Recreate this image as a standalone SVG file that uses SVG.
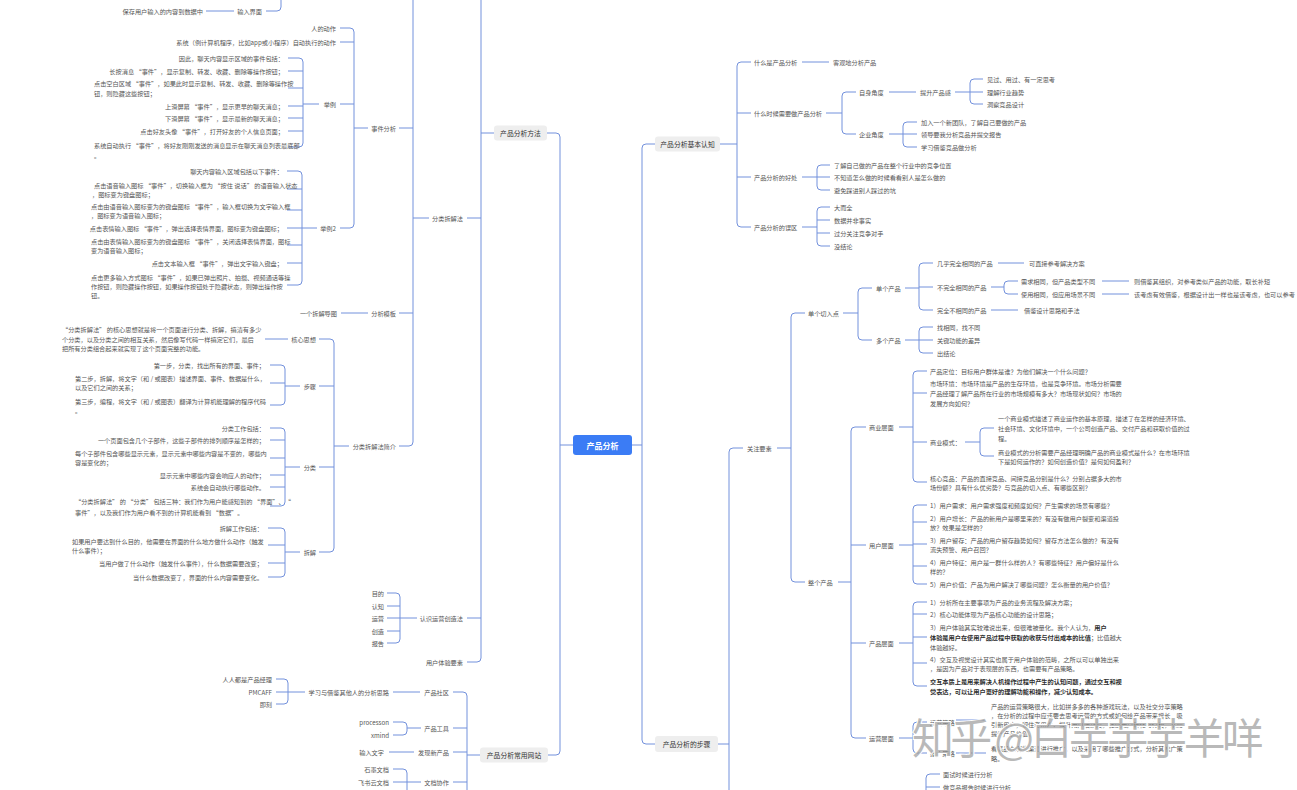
<svg xmlns="http://www.w3.org/2000/svg" width="1297" height="790" viewBox="0 0 1297 790">
<style>
.t{font-family:"Noto Sans CJK SC","Noto Sans",sans-serif;font-size:6.2px;fill:#555555;dominant-baseline:central}
.e{text-anchor:end}
.b{font-weight:bold;fill:#2e2e2e}
.h{font-family:"Noto Sans CJK SC","Noto Sans",sans-serif;font-size:6.8px;fill:#333;text-anchor:middle;dominant-baseline:central}
.bx{fill:#eeeeee}
.l{fill:none;stroke:#7391dc;stroke-width:1}
.wm{font-family:"Noto Sans CJK SC",sans-serif;font-size:42px;fill:#8a8a8a;fill-opacity:.6;stroke:#ffffff;stroke-width:2;paint-order:stroke}
</style>
<rect width="1297" height="790" fill="#ffffff"/>
<g id="connectors" class="l">
<path d="M632 445H642M655 144H646Q642 144 642 148V740Q642 744 646 744H655"/>
<path d="M573 445H560M547 133H556Q560 133 560 137V751Q560 755 556 755H548"/>
<path d="M720 144H737M751 62H741Q737 62 737 66V223Q737 227 741 227H751M737 113H751M737 177H751"/>
<path d="M802 62H829"/>
<path d="M826 113H842M856 92H846Q842 92 842 96V130Q842 134 846 134H856"/>
<path d="M889 92H916"/>
<path d="M955 92H970M983 79H974Q970 79 970 83V100Q970 104 974 104H983M970 92H983"/>
<path d="M889 134H903M917 122H907Q903 122 903 126V143Q903 147 907 147H917M903 134H917"/>
<path d="M802 177H817M830 165H821Q817 165 817 169V186Q817 190 821 190H830M817 177H830"/>
<path d="M802 227H817M830 207H821Q817 207 817 211V242Q817 246 821 246H830M817 220H830M817 233H830"/>
<path d="M718 744H729M743 448H733Q729 448 729 452V795"/>
<path d="M777 448H791M805 313H795Q791 313 791 317V578Q791 582 795 582H805"/>
<path d="M843 313H858M872 288H862Q858 288 858 292V336Q858 340 862 340H872"/>
<path d="M905 288H919M933 263H923Q919 263 919 267V306Q919 310 923 310H933M919 287H933"/>
<path d="M998 263H1024"/>
<path d="M991 287H1004M1018 281H1008Q1004 281 1004 285V290Q1004 294 1008 294H1018"/>
<path d="M1102 281H1129M1102 294H1129"/>
<path d="M991 310H1018"/>
<path d="M905 340H919M933 327H923Q919 327 919 331V349Q919 353 923 353H933M919 340H933"/>
<path d="M838 582H851M866 427H855Q851 427 851 431V734Q851 738 855 738H866M851 545H866M851 643H866"/>
<path d="M899 427H913M927 371H917Q913 371 913 375V478Q913 482 917 482H927M913 393H927M913 442H927"/>
<path d="M965 442H980M994 428H984Q980 428 980 432V452Q980 456 984 456H994"/>
<path d="M899 545H913M927 505H917Q913 505 913 509V580Q913 584 917 584H927M913 522H927M913 544H927M913 566H927"/>
<path d="M899 643H913M927 602H917Q913 602 913 606V682Q913 686 917 686H927M913 614H927M913 637H927M913 663H927"/>
<path d="M899 738H913M927 722H917Q913 722 913 726V749Q913 753 917 753H927"/>
<path d="M956 720H986M956 753H986"/>
<path d="M940 774H930Q926 774 926 778V795M926 787H940"/>
<path d="M494 133H481M481 -10V658Q481 662 477 662H467M481 218H467M481 618H467"/>
<path d="M429 218H413M413 -10V442Q413 446 409 446H399M413 128H399M413 313H399"/>
<path d="M368 128H354M340 28H350Q354 28 354 32V224Q354 228 350 228H340M354 42H340M354 104H340"/>
<path d="M319 104H303M288 58H299Q303 58 303 62V143Q303 147 299 147H288M303 71H288M303 88H288M303 106H288M303 118H288M303 131H288"/>
<path d="M317 228H302M287 171H298Q302 171 302 175V281Q302 285 298 285H287M302 189H287M302 210H287M302 228H287M302 245H287M302 263H287"/>
<path d="M368 313H341"/>
<path d="M349 446H334M319 339H330Q334 339 334 343V548Q334 552 330 552H319M334 386H319M334 467H319"/>
<path d="M288 339H265"/>
<path d="M300 386H285M270 365H281Q285 365 285 369V401Q285 405 281 405H270M285 383H270"/>
<path d="M300 467H285M270 428H281Q285 428 285 432V502Q285 506 281 506H270M285 440H270M285 458H270M285 475H270M285 487H270"/>
<path d="M300 552H285M268 528H281Q285 528 285 532V573Q285 577 281 577H268M285 545H268M285 563H268"/>
<path d="M417 618H400M387 593H396Q400 593 400 597V639Q400 643 396 643H387M400 606H387M400 618H387M400 631H387"/>
<path d="M480 755H467M453 692H463Q467 692 467 696V795M467 728H453M467 752H453M467 782H453"/>
<path d="M420 692H393"/>
<path d="M305 692H288M276 679H284Q288 679 288 683V700Q288 704 284 704H276M288 692H276"/>
<path d="M421 728H407M393 722H403Q407 722 407 726V731Q407 735 403 735H393"/>
<path d="M414 752H389"/>
<path d="M421 782H407M393 769H403Q407 769 407 773V795M407 782H393"/>
<path d="M266 11H277Q281 11 281 7V-10M234 11H206"/>
</g>
<g id="root"><rect x="573" y="435" width="59" height="20" rx="3" fill="#3b7cf5"/><text x="602.5" y="445" style="font-family:'Noto Sans CJK SC',sans-serif;font-size:8px;font-weight:bold;fill:#fff;text-anchor:middle;dominant-baseline:central">产品分析</text></g>
<g id="b-jbrz"><rect class="bx" x="655" y="136.5" width="65" height="15" rx="3"/><text class="h" x="687.5" y="144">产品分析基本认知</text></g>
<g id="b-bz"><rect class="bx" x="655" y="736" width="63" height="16" rx="3"/><text class="h" x="686.5" y="744">产品分析的步骤</text></g>
<g id="b-ff"><rect class="bx" x="494" y="125.5" width="53" height="15" rx="3"/><text class="h" x="520.5" y="133">产品分析方法</text></g>
<g id="b-wz"><rect class="bx" x="480" y="747.5" width="68" height="15" rx="3"/><text class="h" x="514" y="755">产品分析常用网站</text></g>
<g id="r1"><text class="t" x="754" y="62">什么是产品分析</text></g>
<g id="r1a"><text class="t" x="833" y="62">客观地分析产品</text></g>
<g id="r2"><text class="t" x="754" y="113">什么时候需要做产品分析</text></g>
<g id="r2a"><text class="t" x="859" y="92">自身角度</text></g>
<g id="r2a1"><text class="t" x="920" y="92">提升产品感</text></g>
<g id="r2a1a"><text class="t" x="987" y="79">见过、用过、有一定思考</text></g>
<g id="r2a1b"><text class="t" x="987" y="92">理解行业趋势</text></g>
<g id="r2a1c"><text class="t" x="987" y="104">洞察竞品设计</text></g>
<g id="r2b"><text class="t" x="859" y="134">企业角度</text></g>
<g id="r2b1"><text class="t" x="921" y="122">加入一个新团队，了解自己要做的产品</text></g>
<g id="r2b2"><text class="t" x="921" y="134">领导要我分析竞品并提交报告</text></g>
<g id="r2b3"><text class="t" x="921" y="147">学习借鉴竞品做分析</text></g>
<g id="r3"><text class="t" x="754" y="177">产品分析的好处</text></g>
<g id="r3a"><text class="t" x="834" y="165">了解自己做的产品在整个行业中的竞争位置</text></g>
<g id="r3b"><text class="t" x="834" y="177">不知道怎么做的时候看看别人是怎么做的</text></g>
<g id="r3c"><text class="t" x="834" y="190">避免踩进别人踩过的坑</text></g>
<g id="r4"><text class="t" x="754" y="227">产品分析的误区</text></g>
<g id="r4a"><text class="t" x="834" y="207">大而全</text></g>
<g id="r4b"><text class="t" x="834" y="220">数据并非事实</text></g>
<g id="r4c"><text class="t" x="834" y="233">过分关注竞争对手</text></g>
<g id="r4d"><text class="t" x="834" y="246">没结论</text></g>
<g id="s1"><text class="t" x="747" y="448">关注要素</text></g>
<g id="s1a"><text class="t" x="808" y="313">单个切入点</text></g>
<g id="s1a1"><text class="t" x="876" y="288">单个产品</text></g>
<g id="s1a1a"><text class="t" x="937" y="263">几乎完全相同的产品</text></g>
<g id="s1a1a1"><text class="t" x="1029" y="263">可直接参考解决方案</text></g>
<g id="s1a1b"><text class="t" x="937" y="287">不完全相同的产品</text></g>
<g id="s1a1b1"><text class="t" x="1021" y="281">需求相同，但产品类型不同</text></g>
<g id="s1a1b1a"><text class="t" x="1134" y="281">则借鉴其组织，对参考类似产品的功能，取长补短</text></g>
<g id="s1a1b2"><text class="t" x="1021" y="294">使用相同，但应用场景不同</text></g>
<g id="s1a1b2a"><text class="t" x="1134" y="294">该考虑有效借鉴，根据设计出一样也是该考虑，也可以参考</text></g>
<g id="s1a1c"><text class="t" x="937" y="310">完全不相同的产品</text></g>
<g id="s1a1c1"><text class="t" x="1024" y="310">借鉴设计思路和手法</text></g>
<g id="s1a2"><text class="t" x="876" y="340">多个产品</text></g>
<g id="s1a2a"><text class="t" x="937" y="327">找相同，找不同</text></g>
<g id="s1a2b"><text class="t" x="937" y="340">关键功能的差异</text></g>
<g id="s1a2c"><text class="t" x="937" y="353">出结论</text></g>
<g id="s1b"><text class="t" x="808" y="582">整个产品</text></g>
<g id="sy"><text class="t" x="869" y="427">商业层面</text></g>
<g id="sy1"><text class="t" x="930" y="371">产品定位：目标用户群体是谁？为他们解决一个什么问题？</text></g>
<g id="sy2"><text class="t"><tspan x="930" y="383">市场环境：市场环境是产品的生存环境，也是竞争环境。市场分析需要</tspan><tspan x="930" y="393">产品经理了解产品所在行业的市场规模有多大？市场现状如何？市场的</tspan><tspan x="930" y="403">发展方向如何？</tspan></text></g>
<g id="sy3"><text class="t" x="930" y="442">商业模式：</text></g>
<g id="sy3a"><text class="t"><tspan x="998" y="418">一个商业模式描述了商业运作的基本原理，描述了在怎样的经济环境、</tspan><tspan x="998" y="428">社会环境、文化环境中，一个公司创造产品、交付产品和获取价值的过</tspan><tspan x="998" y="438">程。</tspan></text></g>
<g id="sy3b"><text class="t"><tspan x="998" y="452">商业模式的分析需要产品经理明确产品的商业模式是什么？在市场环境</tspan><tspan x="998" y="461">下是如何运作的？如何创造价值？是何如何盈利？</tspan></text></g>
<g id="sy4"><text class="t"><tspan x="930" y="478">核心竞品：产品的直接竞品、间接竞品分别是什么？分别占据多大的市</tspan><tspan x="930" y="487">场份额？具有什么优劣势？与竞品的切入点、有哪些区别？</tspan></text></g>
<g id="yh"><text class="t" x="869" y="545">用户层面</text></g>
<g id="yh1"><text class="t" x="930" y="505">1）用户需求：用户需求强度和频度如何？产生需求的场景有哪些？</text></g>
<g id="yh2"><text class="t"><tspan x="930" y="518">2）用户增长：产品的新用户是哪里来的？有没有做用户裂变和渠道投</tspan><tspan x="930" y="527">放？效果是怎样的？</tspan></text></g>
<g id="yh3"><text class="t"><tspan x="930" y="540">3）用户留存：产品的用户留存趋势如何？留存方法怎么做的？有没有</tspan><tspan x="930" y="549">流失预警、用户召回？</tspan></text></g>
<g id="yh4"><text class="t"><tspan x="930" y="562">4）用户特征：用户是一群什么样的人？有哪些特征？用户偏好是什么</tspan><tspan x="930" y="571">样的？</tspan></text></g>
<g id="yh5"><text class="t" x="930" y="584">5）用户价值：产品为用户解决了哪些问题？怎么衡量的用户价值？</text></g>
<g id="cp"><text class="t" x="869" y="643">产品层面</text></g>
<g id="cp1"><text class="t" x="930" y="602">1）分析所在主要事项为产品的业务流程及解决方案；</text></g>
<g id="cp2"><text class="t" x="930" y="614">2）核心功能体现为产品核心功能的设计思路；</text></g>
<g id="cp3"><text class="t"><tspan x="930" y="627">3）用户体验其实较难说出来，但很难被量化。我个人认为，</tspan><tspan class="b">用户</tspan><tspan x="930" y="637" class="b">体验是用户在使用产品过程中获取的收获与付出成本的比值</tspan><tspan>；比值越大</tspan><tspan x="930" y="647">体验越好。</tspan></text></g>
<g id="cp4"><text class="t"><tspan x="930" y="659">4）交互及视觉设计其实也属于用户体验的范畴，之所以可以单独出来</tspan><tspan x="930" y="668">，是因为产品对于表现层的东西，也需要有产品策略。</tspan></text></g>
<g id="cp5"><text class="t b"><tspan x="930" y="681">交互本质上是用来解决人机操作过程中产生的认知问题，通过交互和视</tspan><tspan x="930" y="691">觉表达，可以让用户更好的理解功能和操作，减少认知成本。</tspan></text></g>
<g id="yy"><text class="t" x="869" y="738">运营层面</text></g>
<g id="yy1"><text class="t" x="930" y="722">运营策略</text></g>
<g id="yy1a"><text class="t"><tspan x="991" y="706">产品的运营策略很大，比如拼多多的各种游戏玩法，以及社交分享策略</tspan><tspan x="991" y="715">，在分析的过程中应该要去思考运营的方式或如何给产品带来增长，吸</tspan><tspan x="991" y="724">引新用户，留住老用户，提升用户活跃度，促进用户转化与付费，从而</tspan><tspan x="991" y="733">提升产品价值。</tspan></text></g>
<g id="yy2"><text class="t" x="930" y="753">推广策略</text></g>
<g id="yy2a"><text class="t"><tspan x="991" y="748">看竞品在哪些渠道进行推广，以及采用了哪些推广方式，分析其推广策</tspan><tspan x="991" y="758">略。</tspan></text></g>
<g id="ms1"><text class="t" x="943" y="774">面试时候进行分析</text></g>
<g id="ms2"><text class="t" x="943" y="787">做竞品报告时候进行分析</text></g>
<g id="l-srjm"><text class="t e" x="262" y="11">输入界面</text></g>
<g id="l-srjm1"><text class="t e" x="203" y="11">保存用户输入的内容到数据中</text></g>
<g id="l-fcjf"><text class="t e" x="463" y="218">分类拆解法</text></g>
<g id="l-sjfx"><text class="t e" x="396" y="128">事件分析</text></g>
<g id="l-rdz"><text class="t e" x="336" y="28">人的动作</text></g>
<g id="l-xt"><text class="t e" x="336" y="42">系统（例计算机程序，比如app或小程序）自动执行的动作</text></g>
<g id="l-jl"><text class="t e" x="336" y="104">举例</text></g>
<g id="l-jl1"><text class="t e" x="284" y="58">因此，聊天内容显示区域的事件包括：</text></g>
<g id="l-jl2"><text class="t e" x="284" y="71">长按消息 “事件”，显示复制、转发、收藏、删除等操作按钮；</text></g>
<g id="l-jl3"><text class="t"><tspan x="94" y="83">点击空白区域 “事件”，如果此时显示复制、转发、收藏、删除等操作按</tspan><tspan x="94" y="93">钮，则隐藏这些按钮；</tspan></text></g>
<g id="l-jl4"><text class="t e" x="284" y="106">上滑屏幕 “事件”，显示更早的聊天消息；</text></g>
<g id="l-jl5"><text class="t e" x="284" y="118">下滑屏幕 “事件”，显示最新的聊天消息；</text></g>
<g id="l-jl6"><text class="t e" x="284" y="131">点击好友头像 “事件”，打开好友的个人信息页面；</text></g>
<g id="l-jl7"><text class="t"><tspan x="94" y="145">系统自动执行 “事件”，将好友刚刚发送的消息显示在聊天消息列表最底部</tspan><tspan x="94" y="155">。</tspan></text></g>
<g id="l-jl2n"><text class="t e" x="336" y="228">举例2</text></g>
<g id="l-k1"><text class="t e" x="283" y="171">聊天内容输入区域包括以下事件：</text></g>
<g id="l-k2"><text class="t"><tspan x="94" y="185">点击语音输入图标 “事件”，切换输入框为 “按住 说话” 的语音输入状态</tspan><tspan x="92" y="194">，图标变为键盘图标；</tspan></text></g>
<g id="l-k3"><text class="t"><tspan x="91" y="206">点击由语音输入图标变为的键盘图标 “事件”，输入框切换为文字输入框</tspan><tspan x="91" y="215">，图标变为语音输入图标；</tspan></text></g>
<g id="l-k4"><text class="t e" x="283" y="228">点击表情输入图标 “事件”，弹出选择表情界面，图标变为键盘图标；</text></g>
<g id="l-k5"><text class="t"><tspan x="91" y="241">点击由表情输入图标变为的键盘图标 “事件”，关闭选择表情界面，图标</tspan><tspan x="91" y="250">变为语音输入图标；</tspan></text></g>
<g id="l-k6"><text class="t e" x="283" y="263">点击文本输入框 “事件”，弹出文字输入键盘；</text></g>
<g id="l-k7"><text class="t"><tspan x="91" y="277">点击更多输入方式图标 “事件”，如果已弹出照片、拍摄、视频通话等操</tspan><tspan x="91" y="286">作按钮，则隐藏操作按钮，如果操作按钮处于隐藏状态，则弹出操作按</tspan><tspan x="91" y="295">钮。</tspan></text></g>
<g id="l-fxmb"><text class="t e" x="396" y="313">分析模板</text></g>
<g id="l-cjdt"><text class="t e" x="337" y="313">一个拆解导图</text></g>
<g id="l-jj"><text class="t e" x="396" y="446">分类拆解法简介</text></g>
<g id="l-hx"><text class="t e" x="316" y="339">核心思想</text></g>
<g id="l-hx1"><text class="t"><tspan x="62" y="329">“分类拆解法” 的核心思想就是将一个页面进行分类、拆解，搞清有多少</tspan><tspan x="62" y="339">个分类，以及分类之间的相互关系，然后像写代码一样搞定它们，最后</tspan><tspan x="62" y="348">把所有分类组合起来就实现了这个页面完整的功能。</tspan></text></g>
<g id="l-bz"><text class="t e" x="316" y="386">步骤</text></g>
<g id="l-bz1"><text class="t e" x="265" y="365">第一步，分类，找出所有的界面、事件；</text></g>
<g id="l-bz2"><text class="t"><tspan x="75" y="378">第二步，拆解，将文字（和 / 或图表）描述界面、事件、数据是什么，</tspan><tspan x="75" y="387">以及它们之间的关系；</tspan></text></g>
<g id="l-bz3"><text class="t"><tspan x="75" y="401">第三步，编程，将文字（和 / 或图表）翻译为计算机能理解的程序代码</tspan><tspan x="75" y="410">。</tspan></text></g>
<g id="l-fl"><text class="t e" x="316" y="467">分类</text></g>
<g id="l-fl1"><text class="t e" x="265" y="428">分类工作包括：</text></g>
<g id="l-fl2"><text class="t e" x="265" y="440">一个页面包含几个子部件，这些子部件的排列顺序是怎样的；</text></g>
<g id="l-fl3"><text class="t"><tspan x="75" y="453">每个子部件包含哪些显示元素，显示元素中哪些内容是不变的，哪些内</tspan><tspan x="75" y="462">容是变化的；</tspan></text></g>
<g id="l-fl4"><text class="t e" x="265" y="475">显示元素中哪些内容会响应人的动作；</text></g>
<g id="l-fl5"><text class="t e" x="265" y="487">系统会自动执行哪些动作。</text></g>
<g id="l-fl6"><text class="t"><tspan x="75" y="501">“分类拆解法” 的 “分类” 包括三种：我们作为用户能感知到的 “界面”、“</tspan><tspan x="75" y="512">事件”，以及我们作为用户看不到的计算机能看到 “数据”。</tspan></text></g>
<g id="l-cj"><text class="t e" x="316" y="552">拆解</text></g>
<g id="l-cj1"><text class="t e" x="263" y="528">拆解工作包括：</text></g>
<g id="l-cj2"><text class="t"><tspan x="72" y="541">如果用户要达到什么目的，他需要在界面的什么地方做什么动作（触发</tspan><tspan x="72" y="550">什么事件）；</tspan></text></g>
<g id="l-cj3"><text class="t e" x="263" y="563">当用户做了什么动作（触发什么事件），什么数据需要改变；</text></g>
<g id="l-cj4"><text class="t e" x="263" y="577">当什么数据改变了，界面的什么内容需要变化。</text></g>
<g id="l-rs"><text class="t e" x="463" y="618">认识运营创造法</text></g>
<g id="l-rs1"><text class="t e" x="384" y="593">目的</text></g>
<g id="l-rs2"><text class="t e" x="384" y="606">认知</text></g>
<g id="l-rs3"><text class="t e" x="384" y="618">运营</text></g>
<g id="l-rs4"><text class="t e" x="384" y="631">创造</text></g>
<g id="l-rs5"><text class="t e" x="384" y="643">报告</text></g>
<g id="l-ty"><text class="t e" x="463" y="662">用户体验要素</text></g>
<g id="w-sq"><text class="t e" x="449" y="692">产品社区</text></g>
<g id="w-sq1"><text class="t e" x="389" y="692">学习与借鉴其他人的分析思路</text></g>
<g id="w-sq1a"><text class="t e" x="272" y="679">人人都是产品经理</text></g>
<g id="w-sq1b"><text class="t e" x="272" y="692">PMCAFF</text></g>
<g id="w-sq1c"><text class="t e" x="272" y="704">即刻</text></g>
<g id="w-gj"><text class="t e" x="449" y="728">产品工具</text></g>
<g id="w-gj1"><text class="t e" x="389" y="722">processon</text></g>
<g id="w-gj2"><text class="t e" x="389" y="735">xmind</text></g>
<g id="w-fx"><text class="t e" x="449" y="752">发现新产品</text></g>
<g id="w-fx1"><text class="t e" x="384" y="752">输入文字</text></g>
<g id="w-wd"><text class="t e" x="449" y="782">文档协作</text></g>
<g id="w-wd1"><text class="t e" x="389" y="769">石墨文档</text></g>
<g id="w-wd2"><text class="t e" x="389" y="782">飞书云文档</text></g>
<g id="watermark"><text class="wm" x="912" y="754" textLength="352" lengthAdjust="spacing">知乎 @白芋芋芋羊咩</text></g>
</svg>
